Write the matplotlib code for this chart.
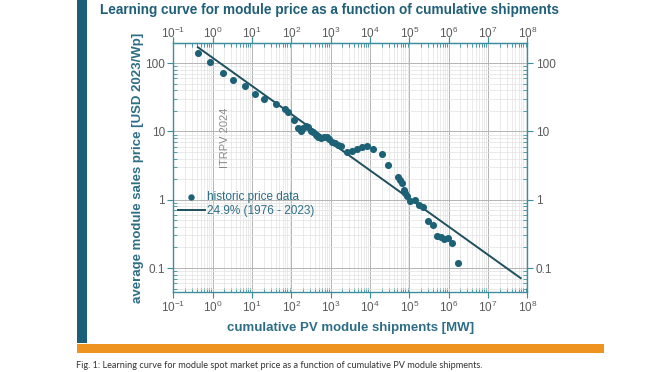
import numpy as np
import matplotlib
matplotlib.use('Agg')
from matplotlib import pyplot as plt
import matplotlib.ticker as ticker
from matplotlib.patches import Rectangle

plt.rcParams['font.family'] = ['Liberation Sans', 'DejaVu Sans']

# historic module price vs cumulative shipments
shipments_mw = [0.42, 0.87, 1.84, 3.3, 6.65, 11.9, 20.6, 41.6, 68, 84,
                119, 146, 173, 202, 232, 271, 317, 363, 425, 486,
                569, 679, 795, 910, 1065, 1290, 1566, 1835, 2563, 3436,
                4605, 6172, 8267, 11740, 19900, 29300, 50700, 58000, 66500, 73500,
                79000, 86000, 104000, 140000, 180000, 227000, 300000, 408000, 500000,
                630000, 764000, 982000, 1240000, 1730000]
price_usd = [140, 104, 72.8, 57, 47, 35.2, 29.7, 24.8, 21.4, 19.5,
             14.5, 11.2, 10.0, 11.2, 12.1, 11.6, 10.3, 9.64, 8.92, 8.42,
             7.97, 8.42, 8.42, 7.71, 7.11, 6.74, 6.37, 6.16, 5.08, 5.25,
             5.51, 5.89, 6.15, 5.51, 4.70, 3.25, 2.14, 1.96, 1.75, 1.40,
             1.25, 1.14, 0.955, 1.0, 0.84, 0.78, 0.48, 0.43, 0.296,
             0.28, 0.265, 0.274, 0.236, 0.118]

# learning curve fit, 24.9% (end points)
fit_x = [0.42, 6.8e7]
fit_y = [171, 0.071]

x_ticks = [1e-1, 1e0, 1e1, 1e2, 1e3, 1e4, 1e5, 1e6, 1e7, 1e8]
y_ticks = [0.1, 1, 10, 100]
y_tick_labels = ['0.1', '1', '10', '100']

teal = '#1d6176'
spine_c = '#3b8e9e'
label_c = '#2d6e86'
tick_c = '#5a5a5a'

fig = plt.figure(figsize=(6.55, 3.72), dpi=100)
fig.patch.set_facecolor('white')

# decoration bars
fig.add_artist(Rectangle((77 / 655, 1 - 343 / 372), 10 / 655, 343 / 372,
                         transform=fig.transFigure, color='#1b5e77', lw=0))
fig.add_artist(Rectangle((77 / 655, 1 - 353 / 372), 527 / 655, 9 / 372,
                         transform=fig.transFigure, color='#ef9320', lw=0))

ax = fig.add_axes([173.3 / 655, 1 - 291.7 / 372, 354 / 655, 248.4 / 372])
ax.set_xscale('log')
ax.set_yscale('log')
ax.set_xlim(1e-1, 1e8)
ax.set_ylim(0.045, 195)

ax.grid(which='major', color='#b4b4b4', lw=0.7)
ax.grid(which='minor', color='#e2e2e2', lw=0.5)
ax.set_axisbelow(True)

sc = ax.scatter(shipments_mw, price_usd, s=26, color=teal, lw=0,
                label='historic price data', zorder=4)
ln, = ax.plot(fit_x, fit_y, color='#1e4f5e', lw=1.4, label='24.9% (1976 - 2023)', zorder=3)

minor_loc = ticker.LogLocator(base=10, subs=np.arange(2, 10), numticks=20)

ax.set_xticks(x_ticks)
ax.xaxis.set_major_formatter(ticker.LogFormatterMathtext())
ax.xaxis.set_minor_locator(minor_loc)
ax.xaxis.set_minor_formatter(ticker.NullFormatter())
ax.set_yticks(y_ticks)
ax.set_yticklabels(y_tick_labels)
ax.yaxis.set_minor_locator(ticker.LogLocator(base=10, subs=np.arange(2, 10), numticks=20))
ax.yaxis.set_minor_formatter(ticker.NullFormatter())

ax.tick_params(which='both', top=True, right=True,
               labeltop=False, labelright=True, colors=spine_c,
               labelcolor=tick_c, labelsize=8.5)
ax.tick_params(which='major', direction='out', length=4, width=0.8, pad=2)
ax.tick_params(which='minor', direction='in', length=3, width=0.6)
for s in ax.spines.values():
    s.set_color(spine_c)
    s.set_linewidth(1.0)

# top axis labels (same scale), a bit closer to the frame
secx = ax.secondary_xaxis('top')
secx.set_xticks(x_ticks)
secx.xaxis.set_major_formatter(ticker.LogFormatterMathtext())
secx.xaxis.set_minor_locator(ticker.LogLocator(base=10, subs=np.arange(2, 10), numticks=20))
secx.xaxis.set_minor_formatter(ticker.NullFormatter())
secx.tick_params(which='both', colors=spine_c, labelcolor=tick_c, labelsize=8.5)
secx.tick_params(which='major', direction='out', length=4, width=0.8, pad=-2)
secx.tick_params(which='minor', direction='in', length=3, width=0.6)
secx.spines['top'].set_color(spine_c)

ax.set_xlabel('cumulative PV module shipments [MW]', color=label_c,
              fontweight='bold', fontsize=9.5, labelpad=5)
ax.set_ylabel('average module sales price [USD 2023/Wp]', color=label_c,
              fontweight='bold', fontsize=9.5, labelpad=1)

ax.text(0.145, 0.62, 'ITRPV 2024', transform=ax.transAxes, rotation=90,
        color='#8a8a8a', fontsize=8, ha='center', va='center')

leg = ax.legend(handles=[sc, ln], loc='upper left', bbox_to_anchor=(0.012, 0.405),
                frameon=False, fontsize=8.5, handlelength=2.3, handletextpad=0.2,
                borderaxespad=0, borderpad=0, labelspacing=0.2, markerscale=0.9)
for t in leg.get_texts():
    t.set_color(label_c)

fig.text(100 / 655, 1 - 10 / 372, 'Learning curve for module price as a function of cumulative shipments',
         color='#1f5f78', fontweight='bold', fontsize=9.8, ha='left', va='center')
fig.text(76 / 655, 1 - 365 / 372,
         'Fig. 1: Learning curve for module spot market price as a function of cumulative PV module shipments.',
         color='#333333', fontsize=6.6, ha='left', va='center', family=['Lato', 'DejaVu Sans'])

fig.savefig('out.png', dpi=100)
